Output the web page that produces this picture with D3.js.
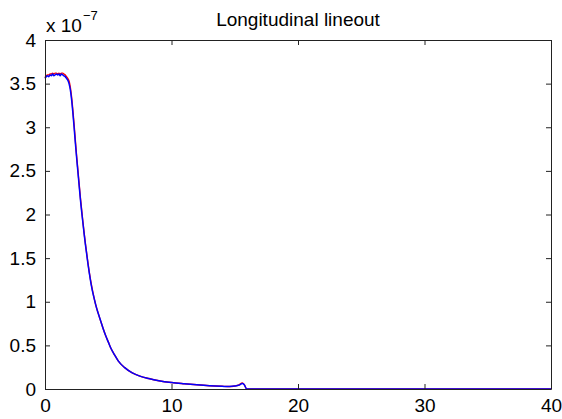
<!DOCTYPE html>
<html>
<head>
<meta charset="utf-8">
<script src="https://cdn.jsdelivr.net/npm/d3@7/dist/d3.min.js"></script>
<style>
  html, body { margin: 0; padding: 0; background: #fff; }
  text { font-family: "Liberation Sans", Arial, Helvetica, sans-serif; fill: #000; }
</style>
</head>
<body>
<svg id="chart" width="562" height="419"></svg>
<script>
// Values in units of 1e-7
const xs = [0,0.1,0.2,0.3,0.4,0.5,0.6,0.7,0.8,0.9,1.0,1.1,1.2,1.3,1.4,1.5,1.6,1.7,1.8,1.9,2.0,2.1,2.2,2.3,2.4,2.5,2.6,2.7,2.8,2.9,
            3.0,3.1,3.2,3.3,3.4,3.5,3.6,3.7,3.8,3.9,4.0,4.2,4.4,4.6,4.8,5.0,5.2,5.5,5.8,6.3,6.9,7.5,8.2,9.0,10,11,12,13,14,14.6,15,15.3,15.6,15.75,15.95,17,40];
const blueSeries = [3.56,3.58,3.59,3.58,3.60,3.59,3.61,3.59,3.60,3.61,3.60,3.61,3.59,3.61,3.60,3.59,3.58,3.56,3.54,3.50,
            3.43,3.32,3.17,3.00,2.82,2.65,2.49,2.33,2.17,2.03,
            1.90,1.77,1.65,1.54,1.43,1.33,1.24,1.16,1.09,1.03,0.97,0.87,0.78,0.69,0.61,0.54,0.47,0.39,0.32,0.245,0.185,0.148,0.12,0.095,0.074,0.060,
            0.048,0.038,0.031,0.028,0.034,0.042,0.062,0.048,0,0,0];
const redSeries = [3.57,3.59,3.60,3.60,3.61,3.61,3.62,3.61,3.62,3.62,3.61,3.62,3.61,3.62,3.62,3.61,3.60,3.58,3.56,3.53,
            3.46,3.35,3.20,3.03,2.85,2.67,2.51,2.35,2.19,2.05,
            1.91,1.78,1.66,1.55,1.44,1.34,1.25,1.17,1.10,1.03,0.97,0.87,0.78,0.69,0.61,0.54,0.47,0.39,0.32,0.245,0.185,0.148,0.12,0.095,0.074,0.060,
            0.048,0.038,0.031,0.028,0.035,0.045,0.068,0.050,0,0,0];
const xTicks = [0,10,20,30,40];
const yTicks = [0,0.5,1,1.5,2,2.5,3,3.5,4];
const titleText = "Longitudinal lineout";
const exponentBase = "x 10";
const exponentPower = "\u22127";

const svg = d3.select("#chart");
const mL = 45, mR = 551, mT = 40, mB = 389;
const x = d3.scaleLinear().domain([0, 40]).range([mL, mR]);
const y = d3.scaleLinear().domain([0, 4]).range([mB, mT]);
const tickLen = 5;
const fs = 19;

// Lines
const line = d3.line().x((d, i) => x(xs[i])).y(d => y(d)).curve(d3.curveMonotoneX);
svg.append("path").datum(redSeries).attr("d", line)
  .attr("fill", "none").attr("stroke", "#ff0000").attr("stroke-width", 1.4);
svg.append("path").datum(blueSeries).attr("d", line)
  .attr("fill", "none").attr("stroke", "#0000ff").attr("stroke-width", 1.5);

// Axes (MATLAB style box with inward ticks)
const axB = d3.axisBottom(x).tickValues(xTicks).tickSizeInner(-tickLen).tickSizeOuter(0).tickPadding(10).tickFormat(d3.format("d"));
const axT = d3.axisTop(x).tickValues(xTicks).tickSizeInner(-tickLen).tickSizeOuter(0).tickFormat("");
const axL = d3.axisLeft(y).tickValues(yTicks).tickSizeInner(-tickLen).tickSizeOuter(0).tickPadding(9).tickFormat(d => String(d));
const axR = d3.axisRight(y).tickValues(yTicks).tickSizeInner(-tickLen).tickSizeOuter(0).tickFormat("");

function style(g) {
  g.selectAll("path.domain").attr("stroke", "#222").attr("stroke-width", 1);
  g.selectAll(".tick line").attr("stroke", "#222").attr("stroke-width", 1);
  g.selectAll("text").attr("font-size", fs).attr("font-family", '"Liberation Sans", Arial, sans-serif').attr("fill", "#000");
}
svg.append("g").attr("transform", `translate(0,${mB})`).call(axB).call(style);
svg.append("g").attr("transform", `translate(0,${mT})`).call(axT).call(style);
svg.append("g").attr("transform", `translate(${mL},0)`).call(axL).call(style);
svg.append("g").attr("transform", `translate(${mR},0)`).call(axR).call(style);

// Title
svg.append("text").attr("x", (mL + mR) / 2).attr("y", 26)
  .attr("text-anchor", "middle").attr("font-size", fs).text(titleText);

// Exponent label
const ex = svg.append("text").attr("x", 46).attr("y", 32).attr("font-size", fs);
ex.append("tspan").text(exponentBase);
ex.append("tspan").attr("font-size", 13).attr("dy", -12).attr("dx", 1).text(exponentPower);
</script>
</body>
</html>
